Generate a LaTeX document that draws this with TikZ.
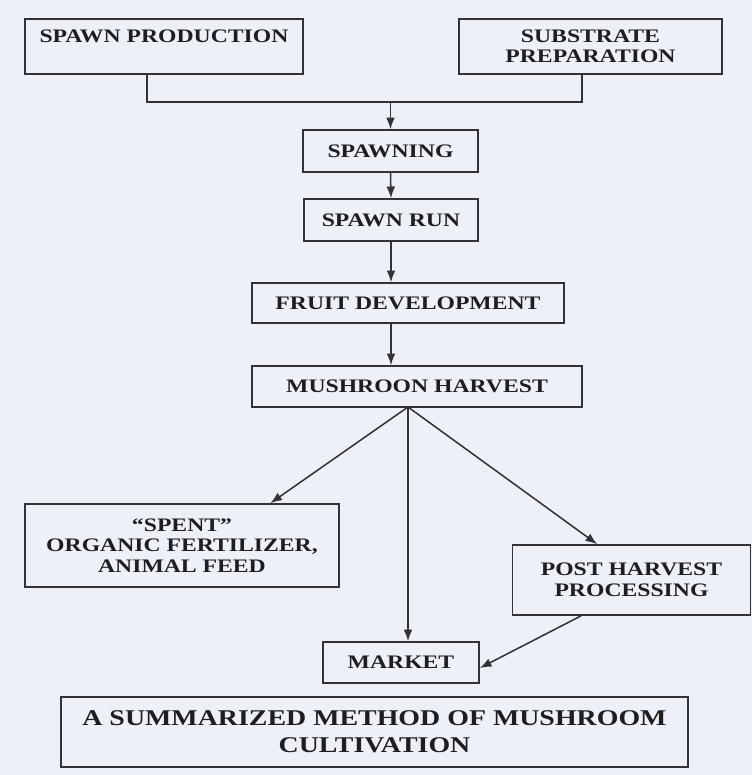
\documentclass[tikz,border=0pt]{standalone}
\usepackage{fontspec}
\setmainfont{Liberation Serif}[FakeStretch=1.24]
\usetikzlibrary{arrows.meta,calc}

\definecolor{paper}{RGB}{238,240,247}
\definecolor{ink}{RGB}{30,30,34}
\definecolor{rule}{RGB}{50,50,56}

\tikzset{
    stage/.style={draw=rule, line width=1.3pt, text=ink, align=center, inner sep=0pt,
        font=\bfseries\fontsize{16.3}{17.5}\selectfont},
    dims/.style 2 args={minimum width=#1*0.03cm, minimum height=#2*0.03cm},
    titlebox/.style={font=\bfseries\fontsize{19.2}{23}\selectfont},
    link/.style={draw=rule, line width=1.3pt},
    flow/.style={link, -{Latex[length=10pt,width=7.5pt]}}
}

\begin{document}
\begin{tikzpicture}[x=0.03cm, y=-0.03cm]
    \fill[paper] (0, 0) rectangle (752, 775);

    \node[stage, dims={278}{55}] (prod) at (164, 46.5) {SPAWN PRODUCTION\\\mbox{}};
    \node[stage, dims={263}{55}] (subs) at (590.5, 46.5) {SUBSTRATE\\PREPARATION};
    \node[stage, dims={175}{42}] (spng) at (390.5, 151) {SPAWNING};
    \node[stage, dims={174}{42}] (run) at (391, 220) {SPAWN RUN};
    \node[stage, dims={312}{40}] (fruit) at (408, 303) {FRUIT DEVELOPMENT};
    \node[stage, dims={330}{41}] (harv) at (417, 386.5) {MUSHROON HARVEST};
    \node[stage, dims={314}{83}] (spent) at (182, 545.5) {“SPENT”\\ORGANIC FERTILIZER,\\ANIMAL FEED};
    \node[stage, dims={238}{70}] (post) at (631.5, 580) {POST HARVEST\\PROCESSING};
    \node[stage, dims={156}{41}] (mkt) at (401, 662.5) {MARKET};
    \node[stage, titlebox, dims={627}{70}] (title) at (374.5, 732) {A SUMMARIZED METHOD OF MUSHROOM\\CULTIVATION};

    \coordinate (pj) at (147, 102);
    \coordinate (sj) at (582, 102);
    \coordinate (hub) at (408, 407);

    % joining the two starting boxes
    \draw[link] (prod.south -| pj) -- (pj) -- (sj) -- (subs.south -| sj);
    \draw[flow] (spng.north |- pj) -- (spng.north);
    \draw[flow] (spng.south) -- (run.north);
    \draw[flow] (run.south) -- (run.south |- fruit.north);
    \draw[flow] (run.south |- fruit.south) -- (run.south |- harv.north);

    % after the harvest
    \draw[flow] (hub) -- ($(spent.north west)!0.78!(spent.north east)$);
    \draw[flow] (hub) -- (hub |- mkt.north);
    \draw[flow] (hub) -- ($(post.north west)!0.357!(post.north east)$);
    \draw[flow] ($(post.south west)!0.29!(post.south east)$) -- ($(mkt.north east)!0.63!(mkt.south east)$);
\end{tikzpicture}
\end{document}
